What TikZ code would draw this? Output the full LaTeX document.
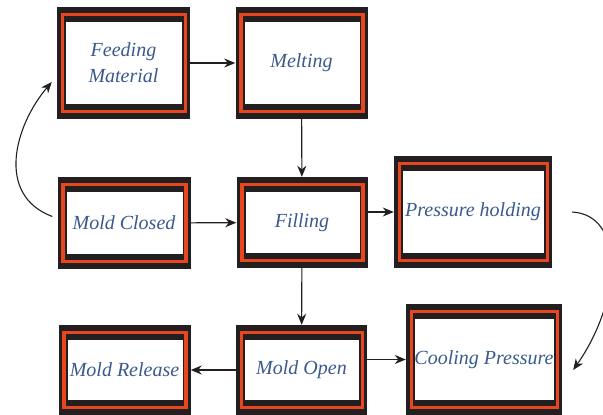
\documentclass[tikz,border=0pt]{standalone}
\usepackage{fontspec}
\usetikzlibrary{arrows.meta}
\newfontfamily\boxserif{Liberation Serif}
\definecolor{framedark}{HTML}{231F20}
\definecolor{orangeline}{HTML}{E8461E}
\definecolor{txtblue}{HTML}{3A5A8C}
\tikzset{
  stepbox/.style={fill=framedark, inner sep=0pt, text=txtblue,
    font=\boxserif\itshape\fontsize{20}{26}\selectfont, align=center,
    path picture={
      \fill[white] ([xshift=9pt,yshift=-15pt]path picture bounding box.north west)
        rectangle ([xshift=-8pt,yshift=15pt]path picture bounding box.south east);
      \draw[orangeline, line width=3.5pt]
        ([xshift=5.5pt,yshift=-7.5pt]path picture bounding box.north west)
        rectangle ([xshift=-4.5pt,yshift=7.5pt]path picture bounding box.south east);
    }},
  conn/.style={draw=framedark, line width=1.1pt, -{Stealth[length=11pt,width=9pt,inset=3.5pt]}}
}
\begin{document}
\begin{tikzpicture}[x=1pt,y=-1pt]
\useasboundingbox (0,0) rectangle (603,415);
\clip (0,0) rectangle (603,415);
\node[stepbox, minimum width=133pt, minimum height=112pt] (feed) at (123.5,63) {Feeding\\Material};
\node[stepbox, minimum width=132pt, minimum height=112pt] (melt) at (301.5,63) {Melting};
\node[stepbox, minimum width=133pt, minimum height=92pt] (closed) at (124,223) {Mold Closed};
\node[stepbox, minimum width=131pt, minimum height=91pt] (fill) at (302,222.5) {Filling};
\node[stepbox, minimum width=158pt, minimum height=112pt] (hold) at (473,212) {Pressure holding};
\node[stepbox, minimum width=132pt, minimum height=90pt] (release) at (124.5,370) {Mold Release};
\node[stepbox, minimum width=131pt, minimum height=90pt] (open) at (301.5,370) {Mold Open};
\node[stepbox, minimum width=156pt, minimum height=111pt] (cool) at (484,359.5) {Cooling Pressure};

\draw[conn] (feed) -- (melt);
\draw[conn] (melt) -- (fill);
\draw[conn] (closed) -- (fill);
\draw[conn] (fill.east |- hold.center) -- (hold.west);
\draw[conn] (fill) -- (open);
\draw[conn] (open) -- (release);
\draw[conn] (open.east |- cool.center) -- (cool.west);
\draw[conn] ([xshift=-5pt,yshift=6.5pt]closed.west) .. controls (-5,195) and (15,125) .. ([xshift=-5pt,yshift=-19pt]feed.west);
\draw[conn] ([xshift=20pt]hold.east) .. controls (625,215) and (622,300) .. ([xshift=11pt,yshift=-10.5pt]cool.east);
\end{tikzpicture}
\end{document}
